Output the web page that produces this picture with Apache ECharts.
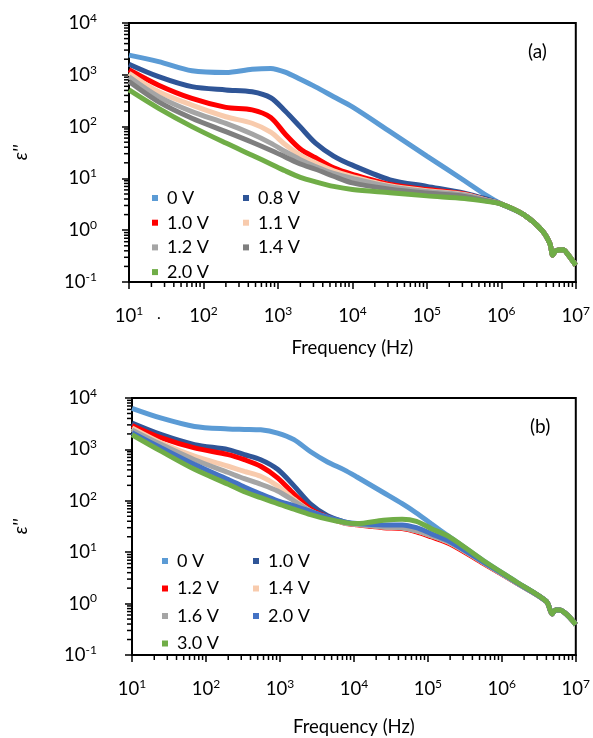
<!DOCTYPE html>
<html><head><meta charset="utf-8">
<script src="https://cdn.jsdelivr.net/npm/echarts@6/dist/echarts.min.js"></script>
<style>html,body{margin:0;padding:0;background:#fff}#c{width:593px;height:738px}</style>
</head><body><div id="c"></div>
<script>
// ---------- Panel (a) ----------
const freqA = [10, 25, 70, 200, 450, 800, 1250, 2000, 3200, 5600, 10000, 32000, 100000, 320000, 630000, 1000000, 2000000, 3500000, 4500000, 4900000, 5400000, 6800000, 7600000, 10000000];
const a_0V  = [2400, 1800, 1200, 1110, 1280, 1330, 1130, 820, 585, 377, 240, 80, 27, 9.0, 4.7, 3.2, 2.0, 1.0, 0.55, 0.33, 0.40, 0.42, 0.36, 0.21];
const a_08V = [1600, 920, 590, 510, 470, 360, 200, 98, 48, 27, 18, 9.4, 7.0, 5.2, 4.0, 3.2, 2.0, 1.0, 0.55, 0.33, 0.40, 0.42, 0.36, 0.21];
const a_10V = [1250, 630, 350, 235, 210, 150, 72, 37, 25, 16, 12, 7.6, 6.1, 5.0, 3.8, 3.2, 2.0, 1.0, 0.55, 0.33, 0.40, 0.42, 0.36, 0.21];
const a_11V = [1070, 470, 260, 155, 116, 78, 45, 28, 20, 14, 10.8, 7.2, 5.8, 4.9, 3.8, 3.2, 2.0, 1.0, 0.55, 0.33, 0.40, 0.42, 0.36, 0.21];
const a_12V = [920, 380, 195, 115, 72, 48, 33, 23, 17, 12.5, 10, 6.9, 5.6, 4.8, 3.8, 3.2, 2.0, 1.0, 0.55, 0.33, 0.40, 0.42, 0.36, 0.21];
const a_14V = [740, 300, 145, 80, 50, 35, 26, 19, 15, 11, 8.2, 6.2, 5.2, 4.5, 3.7, 3.2, 2.0, 1.0, 0.55, 0.33, 0.40, 0.42, 0.36, 0.21];
const a_20V = [510, 225, 100, 48, 28, 19, 14, 10.5, 8.6, 7.0, 6.1, 5.3, 4.6, 4.1, 3.6, 3.2, 2.0, 1.0, 0.55, 0.33, 0.40, 0.42, 0.36, 0.21];
const namesA = ['0 V', '0.8 V', '1.0 V', '1.1 V', '1.2 V', '1.4 V', '2.0 V'];

// ---------- Panel (b) ----------
const freqB = [10, 25, 70, 200, 330, 550, 930, 1550, 2600, 4400, 7400, 11000, 25000, 45000, 70000, 110000, 200000, 560000, 1600000, 4000000, 4800000, 5300000, 6000000, 10000000];
const b_0V  = [6300, 4050, 2800, 2500, 2450, 2400, 2080, 1550, 900, 570, 400, 290, 145, 88, 58, 36, 19.5, 6.9, 2.6, 1.1, 0.63, 0.75, 0.75, 0.39];
const b_10V = [3250, 1930, 1240, 990, 790, 630, 410, 195, 86, 51, 39, 35, 31, 30, 26, 21, 15.5, 6.3, 2.5, 1.1, 0.63, 0.75, 0.75, 0.39];
const b_12V = [2930, 1670, 1070, 790, 630, 470, 280, 135, 69, 48, 37, 34, 30, 29, 25, 20, 14.5, 6.1, 2.5, 1.1, 0.63, 0.75, 0.75, 0.39];
const b_14V = [2600, 1330, 740, 470, 375, 300, 195, 107, 63, 47, 37, 35, 31, 30, 26, 21, 15, 6.3, 2.5, 1.1, 0.63, 0.75, 0.75, 0.39];
const b_16V = [2400, 1240, 630, 355, 270, 210, 155, 100, 63, 47, 37, 35, 31, 30, 26, 21, 15.2, 6.3, 2.5, 1.1, 0.63, 0.75, 0.75, 0.39];
const b_20V = [2100, 1070, 510, 260, 185, 135, 100, 80, 62, 48, 39, 36, 34, 34, 30, 23, 16, 6.5, 2.55, 1.1, 0.63, 0.75, 0.75, 0.39];
const b_30V = [1930, 915, 410, 210, 150, 115, 88, 69, 54, 44, 38, 36, 42, 44, 40, 29, 19.5, 6.9, 2.6, 1.1, 0.63, 0.75, 0.75, 0.39];
const namesB = ['0 V', '1.0 V', '1.2 V', '1.4 V', '1.6 V', '2.0 V', '3.0 V'];

// ---------- Axes ----------
const xMin = 10, xMax = 1e7, yMin = 0.1, yMax = 1e4;
const xLabel = 'Frequency (Hz)';
const yLabel = "ε''";
const panelTags = ['(a)', '(b)'];

const FONT = 'Lato, "Open Sans", sans-serif';
const colorsA = ['#5B9BD5', '#2F5597', '#FF0000', '#F8CBAD', '#A5A5A5', '#7F7F7F', '#70AD47'];
const colorsB = ['#5B9BD5', '#2F5597', '#FF0000', '#F8CBAD', '#A5A5A5', '#4472C4', '#70AD47'];

function pairs(f, v) { return f.map((x, i) => [x, v[i]]); }

// minor tick values (2..9 x 10^k)
const xMinorVals = [], yMinorVals = [];
for (let k = 1; k < 7; k++) for (let m = 2; m <= 9; m++) xMinorVals.push(m * Math.pow(10, k));
for (let k = -1; k < 4; k++) for (let m = 2; m <= 9; m++) yMinorVals.push(m * Math.pow(10, k));

function fmt(v) {
  const e = Math.round(Math.log10(v));
  return '{m|10}{s|' + e + '}';
}
const rich = {
  m: { fontSize: 18.5, fontFamily: FONT, color: '#000', lineHeight: 22 },
  s: { fontSize: 12, fontFamily: FONT, color: '#000', verticalAlign: 'top', lineHeight: 12 }
};

const grids = [
  { left: 129, top: 23, width: 447, height: 259 },
  { left: 132, top: 398, width: 445, height: 259 }
];

const xAxes = [], yAxes = [], series = [], legends = [];
[0, 1].forEach(g => {
  grids[g].show = true; grids[g].borderColor = '#000'; grids[g].borderWidth = 2;
  xAxes.push({
    type: 'log', logBase: 10, min: xMin, max: xMax, gridIndex: g, splitNumber: 6,
    axisLine: { lineStyle: { color: '#000', width: 2 } },
    axisTick: { show: true, length: 7, lineStyle: { color: '#000', width: 1.5 } },
    splitLine: { show: false },
    axisLabel: { margin: 23, formatter: fmt, rich: rich },
    name: xLabel, nameLocation: 'middle', nameGap: g === 0 ? 57 : 63,
    nameTextStyle: { fontFamily: FONT, fontSize: 18.5, color: '#000' }
  });
  yAxes.push({
    type: 'log', logBase: 10, min: yMin, max: yMax, gridIndex: g, splitNumber: 5,
    axisLine: { lineStyle: { color: '#000', width: 2 } },
    axisTick: { show: true, length: 7, lineStyle: { color: '#000', width: 1.5 } },
    splitLine: { show: false },
    axisLabel: { margin: g === 0 ? 32 : 35, formatter: fmt, rich: rich },
    name: yLabel, nameLocation: 'middle', nameRotate: 90, nameGap: g === 0 ? 99 : 102,
    nameTextStyle: { fontFamily: FONT, fontSize: 19, fontStyle: 'italic', color: '#000' }
  });
});

function addSeries(g, prefix, names, freq, vals, colors) {
  names.forEach((n, i) => {
    series.push({
      type: 'line', name: prefix + n, xAxisIndex: g, yAxisIndex: g,
      data: pairs(freq, vals[i]), showSymbol: false, symbol: 'none',
      smooth: 0.3,
      lineStyle: { color: colors[i], width: 5 }, itemStyle: { color: colors[i] },
      emphasis: { disabled: true }, z: 2 + i
    });
  });
}
addSeries(0, 'a:', namesA, freqA, [a_0V, a_08V, a_10V, a_11V, a_12V, a_14V, a_20V], colorsA);
addSeries(1, 'b:', namesB, freqB, [b_0V, b_10V, b_12V, b_14V, b_16V, b_20V, b_30V], colorsB);

// minor ticks through the axes' own scales
[0, 1].forEach(g => {
  series.push({
    type: 'custom', xAxisIndex: g, yAxisIndex: g, silent: true, clip: false, z: 20,
    data: xMinorVals.map(v => [v, yMin]),
    renderItem: (p, api) => {
      const c = api.coord([api.value(0), api.value(1)]);
      return { type: 'line', shape: { x1: c[0], y1: c[1] + 1, x2: c[0], y2: c[1] + 5 }, style: { stroke: '#000', lineWidth: 1.5 } };
    }
  });
  series.push({
    type: 'custom', xAxisIndex: g, yAxisIndex: g, silent: true, clip: false, z: 20,
    data: yMinorVals.map(v => [xMin, v]),
    renderItem: (p, api) => {
      const c = api.coord([api.value(0), api.value(1)]);
      return { type: 'line', shape: { x1: c[0] - 1, y1: c[1], x2: c[0] - 5, y2: c[1] }, style: { stroke: '#000', lineWidth: 1.5 } };
    }
  });
});

function legend(prefix, items, left, top, gap) {
  return {
    data: items.map(n => prefix + n), orient: 'vertical', left: left, top: top,
    itemWidth: 6, itemHeight: 6, itemGap: gap, icon: 'rect', selectedMode: false,
    formatter: n => n.slice(2),
    textStyle: { fontFamily: FONT, fontSize: 18, color: '#000', lineHeight: 20, padding: [0, 0, 0, 4] }
  };
}
legends.push(legend('a:', ['0 V', '1.0 V', '1.2 V', '2.0 V'], 147, 183, 4.7));
legends.push(legend('a:', ['0.8 V', '1.1 V', '1.4 V'], 238, 183, 4.7));
legends.push(legend('b:', ['0 V', '1.2 V', '1.6 V', '3.0 V'], 157, 546, 7.5));
legends.push(legend('b:', ['1.0 V', '1.4 V', '2.0 V'], 248, 546, 7.5));

const chart = echarts.init(document.getElementById('c'), null, { renderer: 'canvas' });
chart.setOption({
  animation: false,
  backgroundColor: '#fff',
  grid: grids, xAxis: xAxes, yAxis: yAxes, series: series, legend: legends,
  graphic: [
    { type: 'text', left: 528, top: 42, style: { text: panelTags[0], font: '19px ' + FONT, fill: '#000' } },
    { type: 'text', left: 530, top: 417, style: { text: panelTags[1], font: '19px ' + FONT, fill: '#000' } },
    { type: 'text', left: 157, top: 306, style: { text: '.', font: '16px ' + FONT, fill: '#000' } }
  ]
});
</script></body></html>
